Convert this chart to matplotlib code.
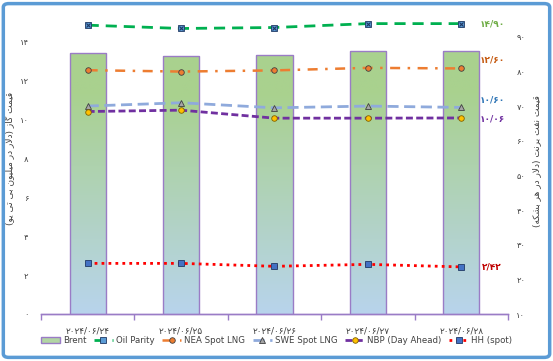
import numpy as np
import matplotlib
matplotlib.use("Agg")
import matplotlib.pyplot as plt
from matplotlib.patches import FancyBboxPatch, Patch

# data
dates = ["2024/06/24", "2024/06/25", "2024/06/26", "2024/06/27", "2024/06/28"]
brent = [85.4, 84.6, 84.8, 85.8, 85.8]
oil_parity = [14.82, 14.65, 14.70, 14.90, 14.90]
nea_lng = [12.51, 12.44, 12.50, 12.63, 12.60]
swe_lng = [10.67, 10.84, 10.58, 10.67, 10.60]
nbp = [10.39, 10.46, 10.05, 10.05, 10.06]
hh = [2.60, 2.60, 2.45, 2.55, 2.42]

left_title = "قیمت گاز (دلار در میلیون بی تی یو)"
right_title = "قیمت نفت برنت (دلار در هر بشکه)"

FA_DIGITS = str.maketrans("0123456789", "۰۱۲۳۴۵۶۷۸۹")


def to_fa(s):
    return str(s).translate(FA_DIGITS)


# simple arabic/persian shaping (matplotlib has no shaping engine)
FORMS = {
    "ا": ("\uFE8D", "\uFE8E"),
    "د": ("\uFEA9", "\uFEAA"),
    "ر": ("\uFEAD", "\uFEAE"),
    "ز": ("\uFEAF", "\uFEB0"),
    "و": ("\uFEED", "\uFEEE"),
    "ب": ("\uFE8F", "\uFE90", "\uFE91", "\uFE92"),
    "ت": ("\uFE95", "\uFE96", "\uFE97", "\uFE98"),
    "ش": ("\uFEB5", "\uFEB6", "\uFEB7", "\uFEB8"),
    "ف": ("\uFED1", "\uFED2", "\uFED3", "\uFED4"),
    "ق": ("\uFED5", "\uFED6", "\uFED7", "\uFED8"),
    "ل": ("\uFEDD", "\uFEDE", "\uFEDF", "\uFEE0"),
    "م": ("\uFEE1", "\uFEE2", "\uFEE3", "\uFEE4"),
    "ن": ("\uFEE5", "\uFEE6", "\uFEE7", "\uFEE8"),
    "ه": ("\uFEE9", "\uFEEA", "\uFEEB", "\uFEEC"),
    "ی": ("\uFBFC", "\uFBFD", "\uFBFE", "\uFBFF"),
    "ک": ("\uFB8E", "\uFB8F", "\uFB90", "\uFB91"),
    "گ": ("\uFB92", "\uFB93", "\uFB94", "\uFB95"),
}


def shape(text):
    out = []
    i = 0
    n = len(text)
    while i < n:
        ch = text[i]
        prev = text[i - 1] if i > 0 else ""
        joins_prev = prev in FORMS and len(FORMS[prev]) == 4
        if ch == "ل" and i + 1 < n and text[i + 1] == "ا":
            out.append("\uFEFC" if joins_prev else "\uFEFB")
            i += 2
            continue
        if ch not in FORMS:
            out.append(ch)
            i += 1
            continue
        f = FORMS[ch]
        nxt = text[i + 1] if i + 1 < n else ""
        joins_next = len(f) == 4 and nxt in FORMS
        if joins_prev and joins_next:
            out.append(f[3])
        elif joins_prev:
            out.append(f[1])
        elif joins_next:
            out.append(f[2])
        else:
            out.append(f[0])
        i += 1
    s = "".join(out)[::-1]
    return s.translate(str.maketrans("()", ")("))


def main():
    plt.rcParams["font.family"] = ["DejaVu Sans"]
    fig = plt.figure(figsize=(5.53, 3.61), dpi=100)
    x = np.arange(len(dates))

    # bars on the base axes, shown on the right
    ax = fig.add_axes([0.0741, 0.130, 0.8445, 0.864])
    ax2 = ax.twinx()
    ax.yaxis.tick_right()
    ax2.yaxis.tick_left()

    bars = ax.bar(x, brent, width=0.386, bottom=0, color="none",
                  edgecolor="#9A7CC6", linewidth=1.0, zorder=3)
    grad = np.linspace(0, 1, 256).reshape(-1, 1)
    top_c = np.array([169, 209, 142]) / 255.0
    bot_c = np.array([184, 212, 236]) / 255.0
    w = np.clip((grad - 0.15) / 0.85, 0, 1)
    img = top_c * (1 - w)[..., None] + bot_c * w[..., None]
    img = img.reshape(256, 1, 3)
    for b in bars:
        bx, bw, bh = b.get_x(), b.get_width(), b.get_height()
        im = ax.imshow(img, extent=[bx, bx + bw, 10, bh], aspect="auto",
                       origin="upper", zorder=2)
        im.set_clip_path(b)

    ax.set_xlim(-0.5, len(dates) - 0.5)
    ax.set_ylim(10, 100)
    ax.set_yticks(np.arange(10, 100, 10))
    ax.set_yticklabels([to_fa(v) for v in range(10, 100, 10)])

    ax2.set_ylim(0, 16)
    ax2.set_yticks(np.arange(0, 16, 2))
    ax2.set_yticklabels([to_fa(v) for v in range(0, 16, 2)])

    ax.tick_params(axis="y", length=0, labelsize=6, labelcolor="#404040", pad=6)
    ax2.tick_params(axis="y", length=0, labelsize=6, labelcolor="#404040", pad=9)
    for a in (ax, ax2):
        for s in ("top", "left", "right"):
            a.spines[s].set_visible(False)
        a.spines["bottom"].set_color("#9A7CC6")
        a.spines["bottom"].set_linewidth(1.0)

    fig.text(0.017, 0.56, shape(left_title), rotation=90, fontsize=6.5,
             color="#404040", ha="center", va="center")
    fig.text(0.971, 0.555, shape(right_title), rotation=90, fontsize=6.5,
             color="#404040", ha="center", va="center")

    ax.set_xticks(x)
    ax.set_xticklabels([to_fa(d) for d in dates], fontsize=6.5, color="#404040")
    ax.set_xticks(np.arange(-0.5, len(dates), 1), minor=True)
    ax.tick_params(axis="x", which="major", length=0, pad=9)
    ax.tick_params(axis="x", which="minor", length=4, color="#9A7CC6", width=1)

    ax2.plot(x, oil_parity, color="#00B050", lw=2, ls=(0, (4, 2.5)),
             marker="s", ms=4.5, mfc="#5B9BD5", mec="#1F3864", mew=0.6,
             label="Oil Parity", zorder=5)
    ax2.plot(x, oil_parity, ls="none", marker="x", ms=3.5, mec="#1F3864",
             mew=0.8, zorder=6)
    ax2.plot(x, nea_lng, color="#ED7D31", lw=1.8, ls=(0, (4, 3, 1, 3)),
             marker="o", ms=4, mfc="#ED7D31", mec="#404040", mew=0.6,
             label="NEA Spot LNG", zorder=5)
    ax2.plot(x, swe_lng, color="#8FAADC", lw=2, ls=(0, (4, 2)),
             marker="^", ms=4.5, mfc="#A5A5A5", mec="#404040", mew=0.6,
             label="SWE Spot LNG", zorder=5)
    ax2.plot(x, nbp, color="#7030A0", lw=2, ls=(0, (2.5, 1.2)),
             marker="o", ms=4, mfc="#FFC000", mec="#7F6000", mew=0.6,
             label="NBP (Day Ahead)", zorder=5)
    ax2.plot(x, hh, color="#FF0000", lw=2, ls=(0, (1, 1.5)),
             marker="s", ms=4, mfc="#4472C4", mec="#1F3864", mew=0.6,
             label="HH (spot)", zorder=5)

    # value labels for the last day
    label_specs = [
        (oil_parity, "#70AD47", 0),
        (nea_lng, "#C55A11", 6),
        (swe_lng, "#2E75B6", 5),
        (nbp, "#7030A0", -1),
        (hh, "#C00000", 0),
    ]
    for series, col, dy in label_specs:
        txt = to_fa(f"{series[-1]:.2f}".replace(".", "/"))
        ax2.annotate(txt, (x[-1], series[-1]), xytext=(22, dy),
                     textcoords="offset points", ha="center", va="center",
                     fontsize=6.5, fontweight="bold", color=col)

    brent_handle = Patch(facecolor="#B2D5A4", edgecolor="#9A7CC6", linewidth=1.0)
    h2, l2 = ax2.get_legend_handles_labels()
    fig.legend([brent_handle] + h2, ["Brent"] + l2, loc="center",
               bbox_to_anchor=(0.5, 0.057), ncol=6, frameon=False,
               fontsize=6.2, handlelength=2.2, columnspacing=0.9,
               handletextpad=0.35, labelcolor="#404040")

    frame = FancyBboxPatch((0.006, 0.01), 0.988, 0.98, boxstyle="round,pad=0,rounding_size=0.01",
                           transform=fig.transFigure, fill=False,
                           edgecolor="#5B9BD5", linewidth=2.5, zorder=10)
    fig.patches.append(frame)

    fig.savefig("out.png", dpi=100)
    return None


if __name__ == "__main__":
    main()
